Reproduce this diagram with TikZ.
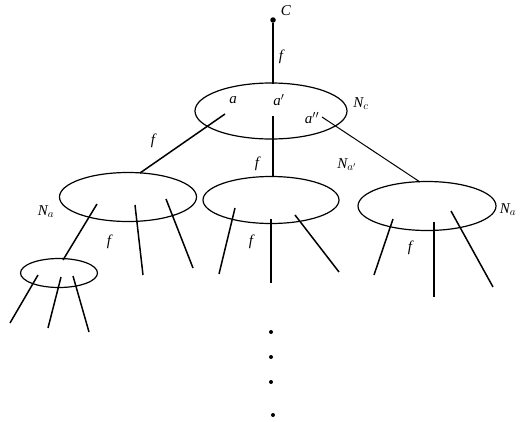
\documentclass[tikz,border=0pt]{standalone}
\usepackage{fontspec}
\setmainfont{Liberation Serif}
\usetikzlibrary{shapes.geometric}
\begin{document}
\begin{tikzpicture}[x=1pt,y=-1pt,
  oval/.style={draw,ellipse,line width=1.2pt,inner sep=0pt},
  edge/.style={line width=1.5pt},
  thinedge/.style={line width=1pt},
  lbl/.style={inner sep=0pt,font=\fontsize{15}{17}\selectfont\itshape},
  dotnode/.style={circle,fill,inner sep=0pt,minimum size=4pt}]
\useasboundingbox (0,0) rectangle (520,421);
% ellipses
\node[oval,minimum width=152pt,minimum height=56pt] (Nc) at (271,111) {};
\node[oval,minimum width=137pt,minimum height=49pt] (Na) at (128,197) {};
\node[oval,minimum width=136pt,minimum height=47pt] (Nap) at (271,200) {};
\node[oval,minimum width=138pt,minimum height=49pt] (Nar) at (427,206) {};
\node[oval,minimum width=77pt,minimum height=29pt] (Ns) at (59,273) {};
% top
\node[dotnode,minimum size=5.5pt] (C) at (273,20) {};
\node[lbl] at (286,11) {C};
\coordinate (nctop) at (273,84);
\draw[edge] (C) -- (nctop);
\node[lbl] at (281,57) {f};
% labels in Nc
\node[lbl] at (233,100) {a};
\node[lbl] at (279,100) {a$'$};
\node[lbl] at (312,118) {a$''$};
\node[lbl] at (361,104) {N$_c$};
% Nc to children
\coordinate (pa) at (225,114);
\coordinate (natop) at (140,173);
\draw[edge] (pa) -- (natop);
\node[lbl] at (153,141) {f};
\coordinate (pap) at (273,116);
\coordinate (naptop) at (273,177);
\draw[edge] (pap) -- (naptop);
\node[lbl] at (257,164) {f};
\node[lbl] at (347,165) {N$_{a'}$};
\coordinate (papp) at (322,117);
\coordinate (nartop) at (420,182);
\draw[thinedge] (papp) -- (nartop);
% Na
\node[lbl] at (46,212) {N$_a$};
\coordinate (na1) at (97,204);
\coordinate (nstop) at (63,260);
\draw[edge] (na1) -- (nstop);
\coordinate (na2s) at (135,205); \coordinate (na2e) at (143,275);
\draw[edge] (na2s) -- (na2e);
\coordinate (na3s) at (166,199); \coordinate (na3e) at (193,268);
\draw[edge] (na3s) -- (na3e);
\node[lbl] at (109,242) {f};
% small ellipse
\coordinate (ns1s) at (38,275); \coordinate (ns1e) at (10,323);
\draw[edge] (ns1s) -- (ns1e);
\coordinate (ns2s) at (61,277); \coordinate (ns2e) at (48,328);
\draw[edge] (ns2s) -- (ns2e);
\coordinate (ns3s) at (73,276); \coordinate (ns3e) at (89,332);
\draw[edge] (ns3s) -- (ns3e);
% Na'
\coordinate (nap1s) at (235,208); \coordinate (nap1e) at (219,274);
\draw[edge] (nap1s) -- (nap1e);
\coordinate (nap2s) at (271,219); \coordinate (nap2e) at (271,283);
\draw[edge] (nap2s) -- (nap2e);
\coordinate (nap3s) at (295,215); \coordinate (nap3e) at (339,272);
\draw[edge] (nap3s) -- (nap3e);
\node[lbl] at (251,242) {f};
% right Na
\node[lbl] at (508,210) {N$_a$};
\coordinate (nr1s) at (393,219); \coordinate (nr1e) at (374,275);
\draw[edge] (nr1s) -- (nr1e);
\coordinate (nr2s) at (434,222); \coordinate (nr2e) at (434,297);
\draw[edge] (nr2s) -- (nr2e);
\coordinate (nr3s) at (451,211); \coordinate (nr3e) at (493,287);
\draw[edge] (nr3s) -- (nr3e);
\node[lbl] at (410,248) {f};
% dots
\node[dotnode] (d1) at (271,332) {};
\node[dotnode] (d2) at (271,357) {};
\node[dotnode] (d3) at (271,382) {};
\node[dotnode] (d4) at (273,415) {};
\end{tikzpicture}
\end{document}
